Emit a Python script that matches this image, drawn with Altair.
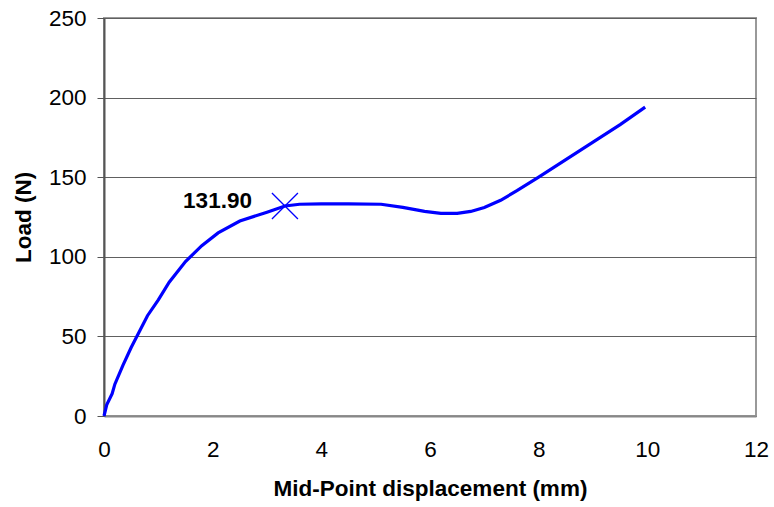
import altair as alt
import pandas as pd

# Data
disp = [0, 0.05, 0.15, 0.2, 0.35, 0.5, 0.8, 1.0, 1.2, 1.5, 1.8, 2.1, 2.5, 3.0, 3.33,
        3.6, 4.0, 4.5, 5.1, 5.5, 5.9, 6.2, 6.5, 6.75, 7.0, 7.3, 7.6, 8.0, 8.5, 9.0, 9.5, 9.96]
load = [0, 7, 14, 20, 32, 43, 63, 73, 84, 97, 107, 115, 122.5, 128, 131.9,
        133, 133.2, 133.2, 133, 131, 128.5, 127.3, 127.3, 128.5, 131, 135.5, 141.5, 150, 161, 172, 183, 194]
peak_x = [3.33]
peak_y = [131.9]
peak_label = ["131.90"]
x_ticks = [0, 2, 4, 6, 8, 10, 12]
y_ticks = [0, 50, 100, 150, 200, 250]

FONT = "Liberation Sans"
BLUE = "#0000FF"
FS = 22.5

curve = pd.DataFrame({"disp": disp, "load": load})
peak = pd.DataFrame({"disp": peak_x, "load": peak_y, "label": peak_label})

x_enc = alt.X(
    "disp:Q",
    scale=alt.Scale(domain=[0, 12], nice=False),
    axis=alt.Axis(
        values=x_ticks, format="d", title="Mid-Point displacement (mm)", grid=False, ticks=False,
        labelFlush=False, labelOverlap=False,
        domainColor="#888888", domainWidth=2, labelPadding=22,
        labelFont=FONT, labelFontSize=FS, labelColor="black",
        titleFont=FONT, titleFontSize=FS, titleFontWeight="bold", titleColor="black",
        titleBaseline="alphabetic", titleY=79,
    ),
)
y_enc = alt.Y(
    "load:Q",
    scale=alt.Scale(domain=[0, 250], nice=False),
    axis=alt.Axis(
        values=y_ticks, format="d", title="Load (N)", grid=True, gridColor="#606060", gridWidth=1,
        labelFlush=False, labelOverlap=False,
        domainColor="#555555", domainWidth=2, tickSize=7, tickColor="#555555",
        labelPadding=11, labelFont=FONT, labelFontSize=FS, labelColor="black",
        titleFont=FONT, titleFontSize=FS, titleFontWeight="bold", titleColor="black",
        titleAngle=-90, titleX=-81, titleY=199, titleBaseline="middle", titleAlign="center",
    ),
)

line = alt.Chart(curve).mark_line(color=BLUE, strokeWidth=3.2).encode(x=x_enc, y=y_enc)

marker = alt.Chart(peak).mark_point(
    shape="M-1,-1L1,1M-1,1L1,-1", size=676, filled=False, color=BLUE, strokeWidth=1.3, opacity=1
).encode(x="disp:Q", y="load:Q")

label = alt.Chart(peak).mark_text(
    align="right", baseline="middle", dx=-33, dy=-5, font=FONT, fontSize=FS,
    fontWeight="bold", color="black"
).encode(x="disp:Q", y="load:Q", text="label:N")

chart = alt.layer(line, marker, label).properties(
    width=652, height=398,
    autosize=alt.AutoSizeParams(type="none"),
    padding={"left": 104, "top": 18, "right": 18, "bottom": 91},
).configure_view(stroke="#999999", strokeWidth=2)

chart.save("out.html", embed_options={"renderer": "svg", "actions": False})
